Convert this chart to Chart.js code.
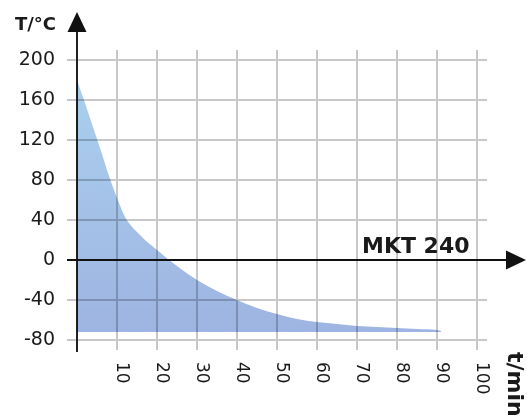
<!DOCTYPE html>
<html>
<head>
<meta charset="utf-8">
<script src="https://cdn.jsdelivr.net/npm/chart.js@4.4.1/dist/chart.umd.min.js"></script>
<style>
    html, body { margin: 0; padding: 0; background: #fff; }
    #wrap { width: 527px; height: 419px; position: relative; }
</style>
</head>
<body>
<div id="wrap"><canvas id="chart"></canvas></div>
<script>
// cooling curve
const timeMin = [0, 2, 4, 6, 8, 10, 12, 13, 14, 15, 17, 20, 23, 26, 30, 35, 40, 45, 50, 55, 60, 65, 70, 75, 80, 85, 90, 91];
const tempC = [180, 157, 133, 109, 84, 62, 43, 37, 32, 28, 20, 10, 0, -9, -20, -31, -40, -48, -54, -59, -62, -64, -66, -67, -68, -69, -70, -71];
const fillBase = -72;

const xTicks = [10, 20, 30, 40, 50, 60, 70, 80, 90, 100];
const yTicks = [-80, -40, 0, 40, 80, 120, 160, 200];

const textColor = '#1a1a1a';
const gridColor = '#c8c8c8';

// axes with arrows, labels and the model name
const axesPlugin = {
    id: 'axesPlugin',
    beforeDatasetsDraw(chart) {
        const ctx = chart.ctx;
        const x0 = chart.scales.x.getPixelForValue(0);
        ctx.save();
        ctx.strokeStyle = '#222';
        ctx.lineWidth = 2;
        ctx.beginPath();
        ctx.moveTo(x0, 30);
        ctx.lineTo(x0, chart.chartArea.bottom + 2);
        ctx.stroke();
        ctx.restore();
        // fill is drawn like a transparent film over the grid
        ctx.save();
        ctx.globalCompositeOperation = 'multiply';
    },
    afterDatasetsDraw(chart) {
        const ctx = chart.ctx;
        ctx.restore();
        const xs = chart.scales.x, ys = chart.scales.y;
        const x0 = xs.getPixelForValue(0);
        const y0 = ys.getPixelForValue(0);

        ctx.save();
        ctx.strokeStyle = '#111';
        ctx.fillStyle = '#111';
        ctx.lineWidth = 2;
        ctx.beginPath();
        ctx.moveTo(x0 - 10, y0);
        ctx.lineTo(508, y0);
        ctx.stroke();

        // arrow heads
        ctx.beginPath();
        ctx.moveTo(x0, 12);
        ctx.lineTo(x0 - 9.5, 32);
        ctx.lineTo(x0 + 9.5, 32);
        ctx.closePath();
        ctx.fill();
        ctx.beginPath();
        ctx.moveTo(526, y0);
        ctx.lineTo(506, y0 - 9.5);
        ctx.lineTo(506, y0 + 9.5);
        ctx.closePath();
        ctx.fill();

        ctx.fillStyle = textColor;
        ctx.font = 'bold 18px "DejaVu Sans"';
        ctx.textAlign = 'right';
        ctx.textBaseline = 'alphabetic';
        ctx.fillText('T/°C', 56, 30);

        ctx.font = 'bold 22px "DejaVu Sans"';
        ctx.textAlign = 'left';
        ctx.fillText('MKT 240', 362, 253);

        // x tick labels read top to bottom
        ctx.font = '17px "DejaVu Sans"';
        ctx.textBaseline = 'middle';
        xTicks.forEach(v => {
            ctx.save();
            ctx.translate(xs.getPixelForValue(v) + 4, 362);
            ctx.rotate(Math.PI / 2);
            ctx.fillText(String(v), 0, 0);
            ctx.restore();
        });

        ctx.font = 'bold 22px "DejaVu Sans"';
        ctx.save();
        ctx.translate(514, 352);
        ctx.rotate(Math.PI / 2);
        ctx.fillText('t/min', 0, 0);
        ctx.restore();
        ctx.restore();
    }
};

const ctx = document.getElementById('chart').getContext('2d');
new Chart(ctx, {
    type: 'line',
    data: {
        datasets: [{
            data: timeMin.map((t, i) => ({ x: t, y: tempC[i] })),
            borderWidth: 0,
            borderColor: 'rgba(0,0,0,0)',
            pointRadius: 0,
            cubicInterpolationMode: 'monotone',
            fill: { value: fillBase },
            backgroundColor: function(context) {
                const chart = context.chart;
                const area = chart.chartArea;
                if (!area) return 'rgb(165,195,232)';
                const ys = chart.scales.y;
                const g = chart.ctx.createLinearGradient(0, ys.getPixelForValue(180), 0, ys.getPixelForValue(fillBase));
                g.addColorStop(0, 'rgb(170,208,238)');
                g.addColorStop(1, 'rgb(158,180,226)');
                return g;
            }
        }]
    },
    options: {
        responsive: true,
        maintainAspectRatio: false,
        animation: false,
        layout: { padding: { top: 50, left: 0, right: 40, bottom: 69 } },
        plugins: {
            legend: { display: false },
            tooltip: { enabled: false }
        },
        scales: {
            x: {
                type: 'linear',
                min: 0,
                max: 102.5,
                afterBuildTicks: scale => { scale.ticks = xTicks.map(v => ({ value: v })); },
                afterFit: scale => { scale.height = 0; },
                ticks: { display: false },
                grid: { color: gridColor, lineWidth: 2, drawTicks: false },
                border: { display: false }
            },
            y: {
                min: -90,
                max: 210,
                afterBuildTicks: scale => { scale.ticks = yTicks.map(v => ({ value: v })); },
                afterFit: scale => { scale.width = 77; },
                ticks: {
                    color: textColor,
                    padding: 12,
                    font: { family: 'DejaVu Sans', size: 19 }
                },
                grid: { color: gridColor, lineWidth: 2, tickLength: 10, tickColor: gridColor },
                border: { display: false }
            }
        }
    },
    plugins: [axesPlugin]
});
</script>
</body>
</html>
